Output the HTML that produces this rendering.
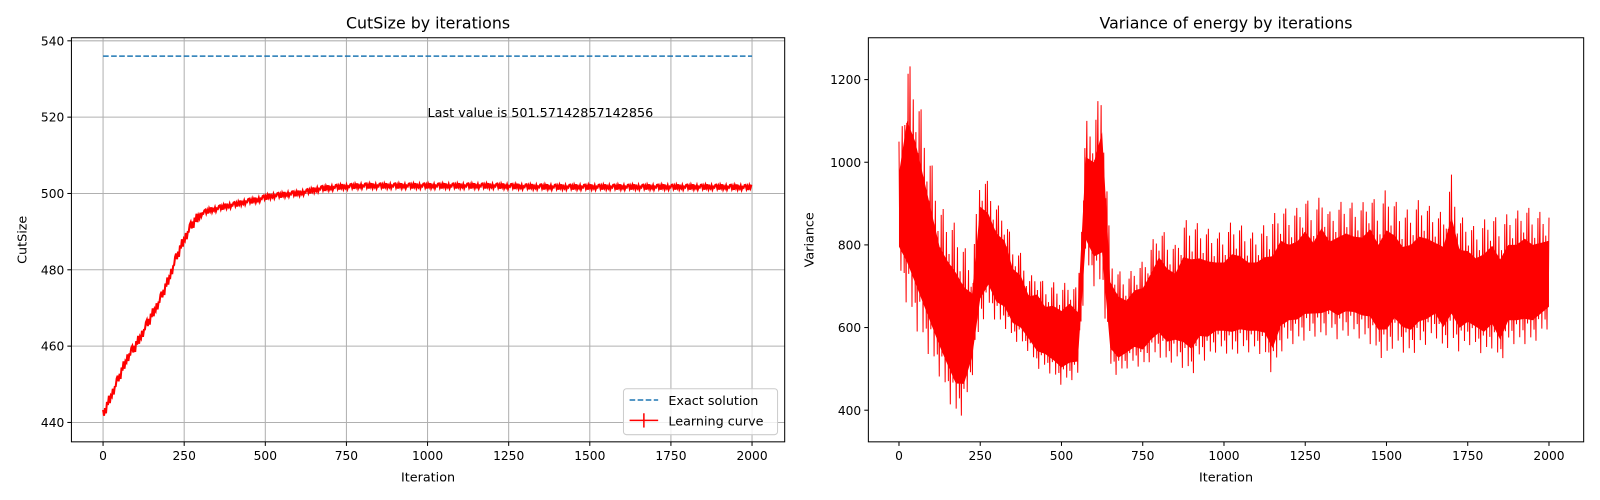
<!DOCTYPE html>
<html><head><meta charset="utf-8">
<style>
html,body{margin:0;padding:0;background:#fff;overflow:hidden;width:1600px;height:500px;}
svg{display:block;}
svg text{font-family:"DejaVu Sans","Liberation Sans",sans-serif;}
</style></head>
<body>
<svg id="fig" width="1600" height="500" viewBox="0 0 1568 490" preserveAspectRatio="none" xmlns="http://www.w3.org/2000/svg">
<rect width="1568" height="490" fill="#fff"/>
<g id="left"></g>
<g id="right"></g>
</svg>
<script>
const cutIters = [0,25,50,75,100,125,150,175,200,225,250,275,300,325,350,375,400,425,450,475,500,525,550,575,600,625,650,675,700,725,750,800,900,1000,1100,1200,1300,1400,1500,1600,1700,1800,1900,2000];
const cutValues = [442,447,452,457,460,464,468,472,477,483,488,492,494.5,495.5,496,496.6,497,497.5,498,498.3,499,499.4,499.6,499.9,500,500.4,500.9,501.3,501.5,501.7,501.8,502,502,502,502,502,501.8,501.7,501.7,501.7,501.7,501.7,501.7,501.6];
const exactSolution = 536;
const lastValueText = "Last value is 501.57142857142856";
const cutXTicks = [0,250,500,750,1000,1250,1500,1750,2000];
const cutYTicks = [440,460,480,500,520,540];

const varIters = [];
for (let i=0;i<=2000;i+=25) varIters.push(i);
const varUpper = [1050,1250,1200,1100,1000,900,870,850,800,750,990,950,900,880,800,780,720,740,700,710,700,720,690,1100,1100,1200,780,740,720,750,760,800,850,820,800,860,860,850,840,830,830,860,850,830,830,850,870,900,880,890,920,880,930,880,900,910,900,900,930,890,940,910,880,890,910,900,880,880,970,870,860,840,860,880,850,880,880,900,880,880,880];
const varLower = [740,650,600,560,520,480,430,380,390,480,600,650,610,600,570,560,540,500,500,480,460,470,480,750,700,690,500,480,500,510,500,520,530,510,520,500,480,520,520,540,540,530,540,540,540,530,480,540,560,560,570,580,570,590,570,580,580,570,560,530,520,560,540,530,550,560,580,540,560,540,560,550,530,550,510,560,560,560,560,580,600];
const varXTicks = [0,250,500,750,1000,1250,1500,1750,2000];
const varYTicks = [400,600,800,1000,1200];

const NS="http://www.w3.org/2000/svg";
function mk(parent, tag, attrs, txt){
  const e=document.createElementNS(NS,tag);
  for(const k in attrs) e.setAttribute(k,attrs[k]);
  if(txt!==undefined) e.textContent=txt;
  parent.appendChild(e); return e;
}
function interp(xs, ys, x){
  for(let i=0;i<xs.length-1;i++){ if(x<=xs[i+1]){const t=(x-xs[i])/(xs[i+1]-xs[i]);return ys[i]+t*(ys[i+1]-ys[i]);} }
  return ys[ys.length-1];
}
const jitter=[0.9,-0.6,0.4,-1,0.7,-0.3,1,-0.8,0.2,-0.5,0.6,-0.9,0.1,-0.2,0.8];

function axesFrame(g, L, T, R, B, xs, ys, xTicks, yTicks, grid){
  for(const t of xTicks){
    const x=xs(t);
    if(grid){const gl=mk(g,'line',{x1:x,x2:x,y1:T,y2:B,stroke:'#b0b0b0','stroke-width':1});}
    const tk=mk(g,'line',{x1:x,x2:x,y1:B,y2:B+4,stroke:'#000'});
    const tl=mk(g,'text',{x:x,y:B+18,'font-size':12,'text-anchor':'middle'},String(t));
  }
  for(const t of yTicks){
    const y=ys(t);
    if(grid){const gl=mk(g,'line',{x1:L,x2:R,y1:y,y2:y,stroke:'#b0b0b0','stroke-width':1});}
    const tk=mk(g,'line',{x1:L-4,x2:L,y1:y,y2:y,stroke:'#000'});
    const tl=mk(g,'text',{x:L-7,y:y+4.5,'font-size':12,'text-anchor':'end'},String(t));
  }
}

// LEFT
(function(){
  const g=document.getElementById('left');
  const L=70,T=37,R=769,B=433;
  const xs=v=>101+v*(737-101)/2000;
  const ys=v=>414-(v-440)*(414-40)/100;
  axesFrame(g,L,T,R,B,xs,ys,cutXTicks,cutYTicks,true);
  const ex=mk(g,'line',{x1:xs(0),x2:xs(2000),y1:ys(exactSolution),y2:ys(exactSolution),stroke:'#1f77b4','stroke-width':1.5,'stroke-dasharray':'5.5,2.4'});
  
  let pts=[];let k=0;
  for(let it=0;it<=2000;it+=3){
    const base=interp(cutIters,cutValues,it);
    const amp=it<300?1.4:0.7;
    const v=base+amp*jitter[k%jitter.length];k++;
    pts.push(xs(it).toFixed(2)+','+ys(v).toFixed(2));
  }
  const lc=mk(g,'polyline',{points:pts.join(' '),fill:'none',stroke:'#ff0000','stroke-width':2});
  
  const fr=mk(g,'rect',{x:L,y:T,width:R-L,height:B-T,fill:'none',stroke:'#000','stroke-width':1});
  
  const an=mk(g,'text',{x:xs(1000),y:ys(521.3)+4.5,'font-size':12.5},lastValueText);
  
  const tt=mk(g,'text',{x:(L+R)/2,y:28,'font-size':15.5,'text-anchor':'middle'},'CutSize by iterations');
  
  const xl=mk(g,'text',{x:(L+R)/2,y:472,'font-size':12.5,'text-anchor':'middle'},'Iteration');
  
  const yl=mk(g,'text',{x:0,y:0,'font-size':12.5,'text-anchor':'middle',transform:'translate(26,235) rotate(-90)'},'CutSize');
  
  const lg=mk(g,'g',{});
  
  mk(lg,'rect',{x:611,y:381,width:151,height:45,rx:3,fill:'#fff','fill-opacity':0.8,stroke:'#ccc'});
  const l1=mk(lg,'line',{x1:617,x2:645,y1:392,y2:392,stroke:'#1f77b4','stroke-width':1.5,'stroke-dasharray':'5.5,2.4'});
  
  const t1=mk(lg,'text',{x:655,y:397,'font-size':12.5},'Exact solution');
  
  mk(lg,'line',{x1:617,x2:645,y1:412,y2:412,stroke:'#ff0000','stroke-width':1.5});
  const l2=mk(lg,'line',{x1:631,x2:631,y1:405,y2:419,stroke:'#ff0000','stroke-width':1.5});
  
  const t2=mk(lg,'text',{x:655,y:417,'font-size':12.5},'Learning curve');
  
})();

// RIGHT
(function(){
  const g=document.getElementById('right');
  const L=851,T=37,R=1552,B=433;
  const xs=v=>881+v*(1518-881)/2000;
  const ys=v=>402-(v-400)*(402-78)/800;
  axesFrame(g,L,T,R,B,xs,ys,varXTicks,varYTicks,false);
  const up=[],lo=[];
  for(let i=0;i<varIters.length;i++){
    const u=varUpper[i],l=varLower[i],d=u-l;
    up.push(xs(varIters[i]).toFixed(2)+','+ys(u-0.25*d).toFixed(2));
    lo.unshift(xs(varIters[i]).toFixed(2)+','+ys(l+0.18*d).toFixed(2));
  }
  const band=mk(g,'polygon',{points:up.concat(lo).join(' '),fill:'#ff0000'});
  
  const f=[1,0.35,0.7,0.05,0.55,0.9,0.2,0.65,0.1,0.8,0.4,0.0,0.75,0.3,0.95,0.15,0.6];
  let pts=[];let k=0;
  for(let it=0;it<=2000;it+=2){
    const u=interp(varIters,varUpper,it),l=interp(varIters,varLower,it);
    const v=l+(u-l)*f[k%f.length];k++;
    pts.push(xs(it).toFixed(2)+','+ys(v).toFixed(2));
  }
  const vl=mk(g,'polyline',{points:pts.join(' '),fill:'none',stroke:'#ff0000','stroke-width':1});
  
  const fr=mk(g,'rect',{x:L,y:T,width:R-L,height:B-T,fill:'none',stroke:'#000','stroke-width':1});
  
  const tt=mk(g,'text',{x:(L+R)/2,y:28,'font-size':15.5,'text-anchor':'middle'},'Variance of energy by iterations');
  
  const xl=mk(g,'text',{x:(L+R)/2,y:472,'font-size':12.5,'text-anchor':'middle'},'Iteration');
  
  const yl=mk(g,'text',{x:0,y:0,'font-size':12.5,'text-anchor':'middle',transform:'translate(797,235) rotate(-90)'},'Variance');
  
})();
</script>
</body></html>
